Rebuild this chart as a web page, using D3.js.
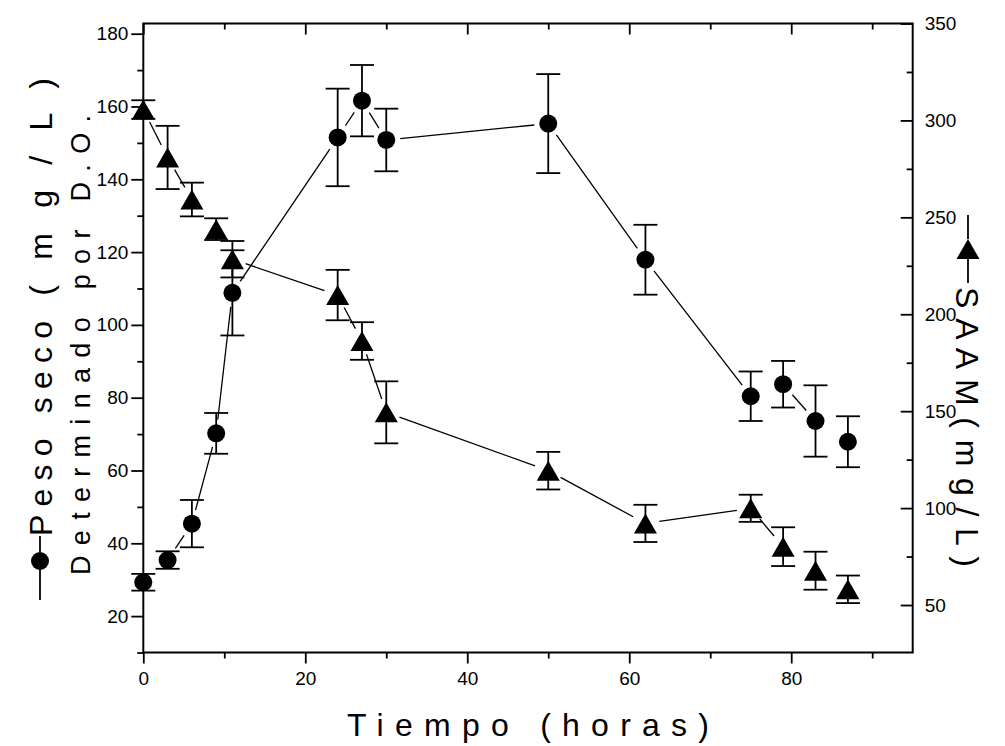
<!DOCTYPE html>
<html>
<head>
<meta charset="utf-8">
<script src="https://cdn.jsdelivr.net/npm/d3@7.9.0/dist/d3.min.js"></script>
<style>
  body { margin: 0; background: #fff; }
  text { font-family: "Liberation Sans", Arial, sans-serif; fill: #000; }
</style>
</head>
<body>
<svg id="chart" width="1005" height="746"></svg>
<script>
// time points (horas)
const tiempo = [0, 3, 6, 9, 11, 24, 27, 30, 50, 62, 75, 79, 83, 87];
// peso seco (mg/L), left axis
const pesoSeco = [29.3, 35.4, 45.4, 70.2, 108.8, 151.5, 161.6, 150.8, 155.3, 117.9, 80.4, 83.7, 73.6, 67.9];
const pesoErr  = [2.3, 2.4, 6.5, 5.6, 11.7, 13.4, 9.8, 8.6, 13.6, 9.6, 6.8, 6.4, 9.8, 7.0];
// SAAM (mg/L), right axis
const saam    = [305.6, 280.9, 259.2, 243.9, 228.4, 209.9, 186.2, 149.4, 119.3, 92.1, 99.9, 80.1, 67.7, 58.1];
const saamErr = [4.8, 16.3, 8.7, 5.6, 9.4, 13.0, 9.7, 16.0, 9.7, 9.6, 7.0, 10.0, 9.8, 7.1];

const xMajor = [0, 20, 40, 60, 80];
const xMinor = [10, 30, 50, 70, 90];
const yLeftMajor = [20, 40, 60, 80, 100, 120, 140, 160, 180];
const yLeftMinor = [10, 30, 50, 70, 90, 110, 130, 150, 170];
const yRightMajor = [50, 100, 150, 200, 250, 300, 350];
const yRightMinor = [75, 125, 175, 225, 275, 325];

const plotL = 143.3, plotR = 912.7, plotT = 23.5, plotB = 652.5;

const svg = d3.select('#chart');

const x = d3.scaleLinear().domain([0, 95]).range([plotL, plotR]);
const yL = d3.scaleLinear().domain([10, 182.8]).range([plotB, plotT]);
const yR = d3.scaleLinear().domain([25.5, 350]).range([plotB, plotT]);

function styleAxis(g) {
  g.select('.domain').remove();
  g.selectAll('.tick line').attr('stroke', '#000').attr('stroke-width', 1.8);
  g.selectAll('.tick text').style('font-size', '19px').attr('fill', '#000');
}

// left axis (outward)
svg.append('g').attr('transform', `translate(${plotL},0)`)
  .call(d3.axisLeft(yL).tickValues(yLeftMinor).tickSize(6).tickFormat(''))
  .call(styleAxis);
svg.append('g').attr('transform', `translate(${plotL},0)`)
  .call(d3.axisLeft(yL).tickValues(yLeftMajor).tickSize(12).tickPadding(3))
  .call(styleAxis);

// bottom axis (outward)
svg.append('g').attr('transform', `translate(0,${plotB})`)
  .call(d3.axisBottom(x).tickValues(xMinor).tickSize(6).tickFormat(''))
  .call(styleAxis);
svg.append('g').attr('transform', `translate(0,${plotB})`)
  .call(d3.axisBottom(x).tickValues(xMajor).tickSize(11).tickPadding(8))
  .call(styleAxis);

// top axis (inward)
svg.append('g').attr('transform', `translate(0,${plotT})`)
  .call(d3.axisBottom(x).tickValues(xMinor).tickSize(6).tickFormat(''))
  .call(styleAxis);
svg.append('g').attr('transform', `translate(0,${plotT})`)
  .call(d3.axisBottom(x).tickValues(xMajor).tickSize(11).tickFormat(''))
  .call(styleAxis);

// right axis (ticks inward, labels outside)
svg.append('g').attr('transform', `translate(${plotR},0)`)
  .call(d3.axisRight(yR).tickValues(yRightMinor).tickSize(-6).tickFormat(''))
  .call(styleAxis);
svg.append('g').attr('transform', `translate(${plotR},0)`)
  .call(d3.axisRight(yR).tickValues(yRightMajor).tickSize(-12).tickPadding(12))
  .call(styleAxis);

// frame
svg.append('rect')
  .attr('x', plotL).attr('y', plotT)
  .attr('width', plotR - plotL).attr('height', plotB - plotT)
  .attr('fill', 'none').attr('stroke', '#000').attr('stroke-width', 2);

// connecting lines, Origin style with a gap at each marker
function drawGapLines(ys, yScale) {
  const gap = 14;
  const pts = tiempo.map((t, i) => [x(t), yScale(ys[i])]);
  for (let i = 0; i < pts.length - 1; i++) {
    const [x1, y1] = pts[i], [x2, y2] = pts[i + 1];
    const len = Math.hypot(x2 - x1, y2 - y1);
    if (len - 2 * gap < 14) continue;
    const ux = (x2 - x1) / len, uy = (y2 - y1) / len;
    svg.append('line')
      .attr('x1', x1 + ux * gap).attr('y1', y1 + uy * gap)
      .attr('x2', x2 - ux * gap).attr('y2', y2 - uy * gap)
      .attr('stroke', '#000').attr('stroke-width', 1.3);
  }
}

function drawErrors(ys, errs, yScale) {
  const g = svg.append('g').attr('stroke', '#000').attr('stroke-width', 1.8);
  tiempo.forEach((t, i) => {
    const cx = x(t), hi = yScale(ys[i] + errs[i]), lo = yScale(ys[i] - errs[i]);
    g.append('line').attr('x1', cx).attr('x2', cx).attr('y1', hi).attr('y2', lo);
    g.append('line').attr('x1', cx - 12).attr('x2', cx + 12).attr('y1', hi).attr('y2', hi);
    g.append('line').attr('x1', cx - 12).attr('x2', cx + 12).attr('y1', lo).attr('y2', lo);
  });
}

const triPath = 'M0,-10L11.5,10L-11.5,10Z';

drawGapLines(pesoSeco, yL);
drawGapLines(saam, yR);
drawErrors(pesoSeco, pesoErr, yL);
drawErrors(saam, saamErr, yR);

svg.append('g').selectAll('circle')
  .data(tiempo)
  .enter()
  .append('circle')
  .attr('cx', d => x(d))
  .attr('cy', (d, i) => yL(pesoSeco[i]))
  .attr('r', 9)
  .attr('fill', '#000');

svg.append('g').selectAll('path')
  .data(tiempo)
  .enter()
  .append('path')
  .attr('d', triPath)
  .attr('transform', (d, i) => `translate(${x(d)},${yR(saam[i])})`)
  .attr('fill', '#000');

// x title
svg.append('text')
  .attr('x', 528).attr('y', 736)
  .attr('text-anchor', 'middle')
  .attr('textLength', 362).attr('lengthAdjust', 'spacing')
  .style('font-size', '32px')
  .text('Tiempo (horas)');

// left title: legend symbol + text, rotated
const lt = svg.append('g').attr('transform', 'translate(40,600) rotate(-90)');
lt.append('line').attr('x1', 0).attr('x2', 30).attr('y1', 0).attr('y2', 0)
  .attr('stroke', '#000').attr('stroke-width', 1.8);
lt.append('circle').attr('cx', 39).attr('cy', 0).attr('r', 9).attr('fill', '#000');
lt.append('line').attr('x1', 48).attr('x2', 64).attr('y1', 0).attr('y2', 0)
  .attr('stroke', '#000').attr('stroke-width', 1.8);
lt.append('text')
  .attr('x', 64).attr('y', 0).attr('dy', '0.36em')
  .attr('textLength', 458).attr('lengthAdjust', 'spacing')
  .style('font-size', '32px')
  .text('Peso seco ( m g / L )');

svg.append('text')
  .attr('transform', 'translate(80,345) rotate(-90)')
  .attr('text-anchor', 'middle').attr('dy', '0.36em')
  .attr('textLength', 460).attr('lengthAdjust', 'spacing')
  .style('font-size', '27px')
  .text('Determinado por D.O.');

// right title, rotated the other way
const rt = svg.append('g').attr('transform', 'translate(968,215) rotate(90)');
rt.append('line').attr('x1', 0).attr('x2', 24).attr('y1', 0).attr('y2', 0)
  .attr('stroke', '#000').attr('stroke-width', 1.8);
rt.append('path').attr('d', triPath)
  .attr('transform', 'translate(34,0) rotate(-90)').attr('fill', '#000');
rt.append('line').attr('x1', 44).attr('x2', 68).attr('y1', 0).attr('y2', 0)
  .attr('stroke', '#000').attr('stroke-width', 1.8);
rt.append('text')
  .attr('x', 72).attr('y', 0).attr('dy', '0.36em')
  .attr('textLength', 280).attr('lengthAdjust', 'spacing')
  .style('font-size', '32px')
  .text('S A A M ( m g / L )');
</script>
</body>
</html>
